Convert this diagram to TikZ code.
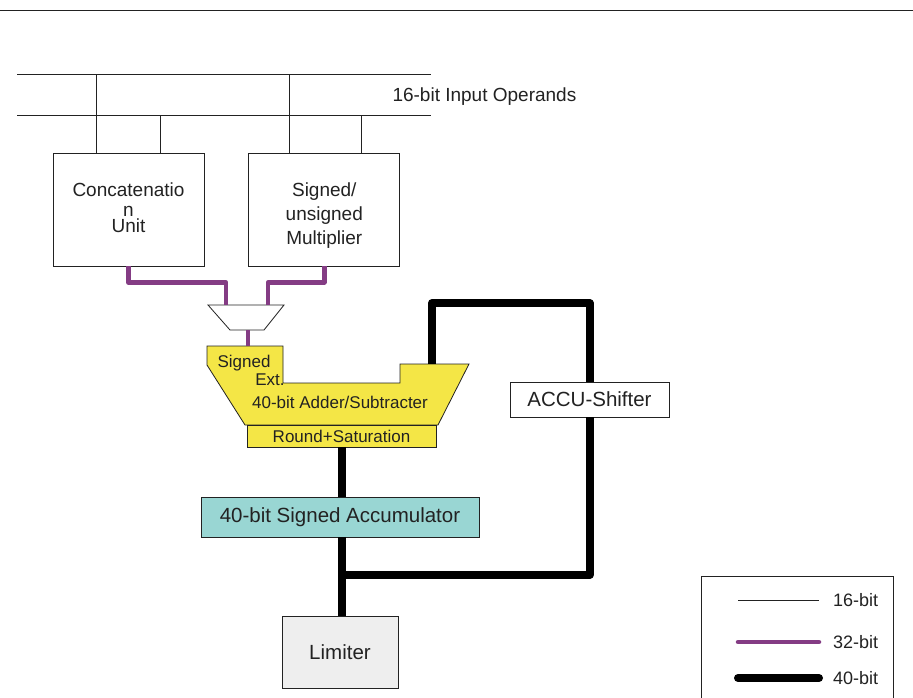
\documentclass[tikz,border=0pt]{standalone}
\usepackage{fontspec}
\setmainfont{Liberation Sans}
\definecolor{ink}{HTML}{222222}
\definecolor{bus32}{HTML}{843C84}
\definecolor{addfill}{HTML}{F4E646}
\definecolor{accfill}{HTML}{99D6D3}
\definecolor{limfill}{HTML}{EEEEEE}
\usetikzlibrary{positioning,calc}
\tikzset{
  lbl/.style={font=\fontsize{19}{23}\selectfont,text=ink,align=center},
  ylbl/.style={font=\fontsize{17}{20}\selectfont,text=ink,inner sep=0pt},
  blbl/.style={font=\fontsize{20.5}{24}\selectfont,text=ink},
  klbl/.style={font=\fontsize{18}{22}\selectfont,text=ink,inner sep=1pt},
  box/.style={draw=ink,line width=0.8pt,fill=white,inner sep=2pt,align=center},
  unit/.style={box,minimum width=151pt,minimum height=113pt},
  outl/.style={draw=ink,line width=0.8pt},
  w16/.style={draw=ink,line width=0.8pt},
  w32/.style={draw=bus32,line width=4.5pt,line join=round},
  w40/.style={draw=black,line width=8pt,line join=round},
  key32/.style={w32,line cap=round},
  key40/.style={w40,line cap=round},
}
\begin{document}
\begin{tikzpicture}[x=1pt,y=-1pt]
\useasboundingbox[fill=white] (0,0) rectangle (913,697);
\draw[w16] (0,10) -- (913,10);
% 16-bit operand buses
\coordinate (busA) at (17,74);
\coordinate (busB) at (17,115);
\draw[w16] (busA) -- ++(414,0);
\draw[w16] (busB) -- ++(414,0);
\node[lbl,anchor=west] (opnd) at (389,97) {16-bit Input Operands};
\node[unit] (concat) at (128.5,209.5) {};
\node[unit,right=44pt of concat] (mult) {};
\node[lbl] (concatlbl) at ([yshift=2pt]concat.center) {Concatenatio\\[-3pt]n\\[-7pt]Unit};
\node[lbl,font=\fontsize{19}{24}\selectfont] (multlbl) at ([yshift=-6pt]mult.center) {Signed/\\unsigned\\Multiplier};
\foreach \dx/\bus in {-32/busA,32/busB}
  \draw[w16] ([xshift=\dx pt]concat.north) -- ([xshift=\dx pt]concat.north |- \bus);
\foreach \dx/\bus in {-34.5/busA,37.5/busB}
  \draw[w16] ([xshift=\dx pt]mult.north) -- ([xshift=\dx pt]mult.north |- \bus);
% adder / subtracter
\draw[outl,fill=addfill] (207,346) -- (283,346) -- (283,383) -- (400,383)
  -- (400,364) -- (469,364) -- (438,425) -- (245,425) -- (207,365) -- cycle;
\coordinate (addtop) at (248,346);
\coordinate (addfb) at (432,364);
\node[ylbl] (sgn) at (244,363) {Signed};
\node[ylbl] (ext) at (270,380) {Ext.};
\node[ylbl] (addlbl) at (340,402) {40-bit Adder/Subtracter};
\node[box,ylbl,fill=addfill,minimum width=189pt,minimum height=22pt] (rs) at (341.5,436) {Round+Saturation};
% mux and 32-bit paths
\coordinate (muxL) at (226,305);
\coordinate (muxR) at (268,305);
\coordinate (muxout) at (248,330);
\draw[outl,fill=white] (208,305) -- (284,305) -- (264,330) -- (230,330) -- cycle;
\draw[w32] (concat.south) -- ++(0,16) -| (muxL);
\draw[w32] (mult.south) -- ++(0,16) -| (muxR);
\draw[w32] (muxout) -- (addtop);
% accumulator, shifter, limiter
\node[box,blbl,fill=accfill,minimum width=278pt,minimum height=40pt] (acc) at (340,517) {40-bit Signed Accumulator};
\node[box,blbl,minimum width=159pt,minimum height=35pt] (shift) at (589.5,399.5) {ACCU-Shifter};
\node[box,blbl,fill=limfill,minimum width=116pt,minimum height=72pt] (lim) at (340,652) {Limiter};
\coordinate (tap) at (341.5,575);
\draw[w40] (rs.south) -- (rs.south |- acc.north);
\draw[w40] (tap |- acc.south) -- (tap |- lim.north);
\draw[w40] (addfb) -- ++(0,-61) -| (shift.north);
\draw[w40] (shift.south) |- (tap);
% legend
\node[draw=ink,line width=0.8pt,minimum width=192pt,minimum height=140pt,anchor=north west] (key) at (701,576) {};
\foreach \y/\w/\t [count=\i] in {600/w16/16-bit,642/key32/32-bit,678/key40/40-bit}{
  \draw[\w] (738,\y) -- (819,\y);
  \node[klbl,anchor=west] (key\i) at (832,\y) {\t};
}
\end{tikzpicture}
\end{document}
